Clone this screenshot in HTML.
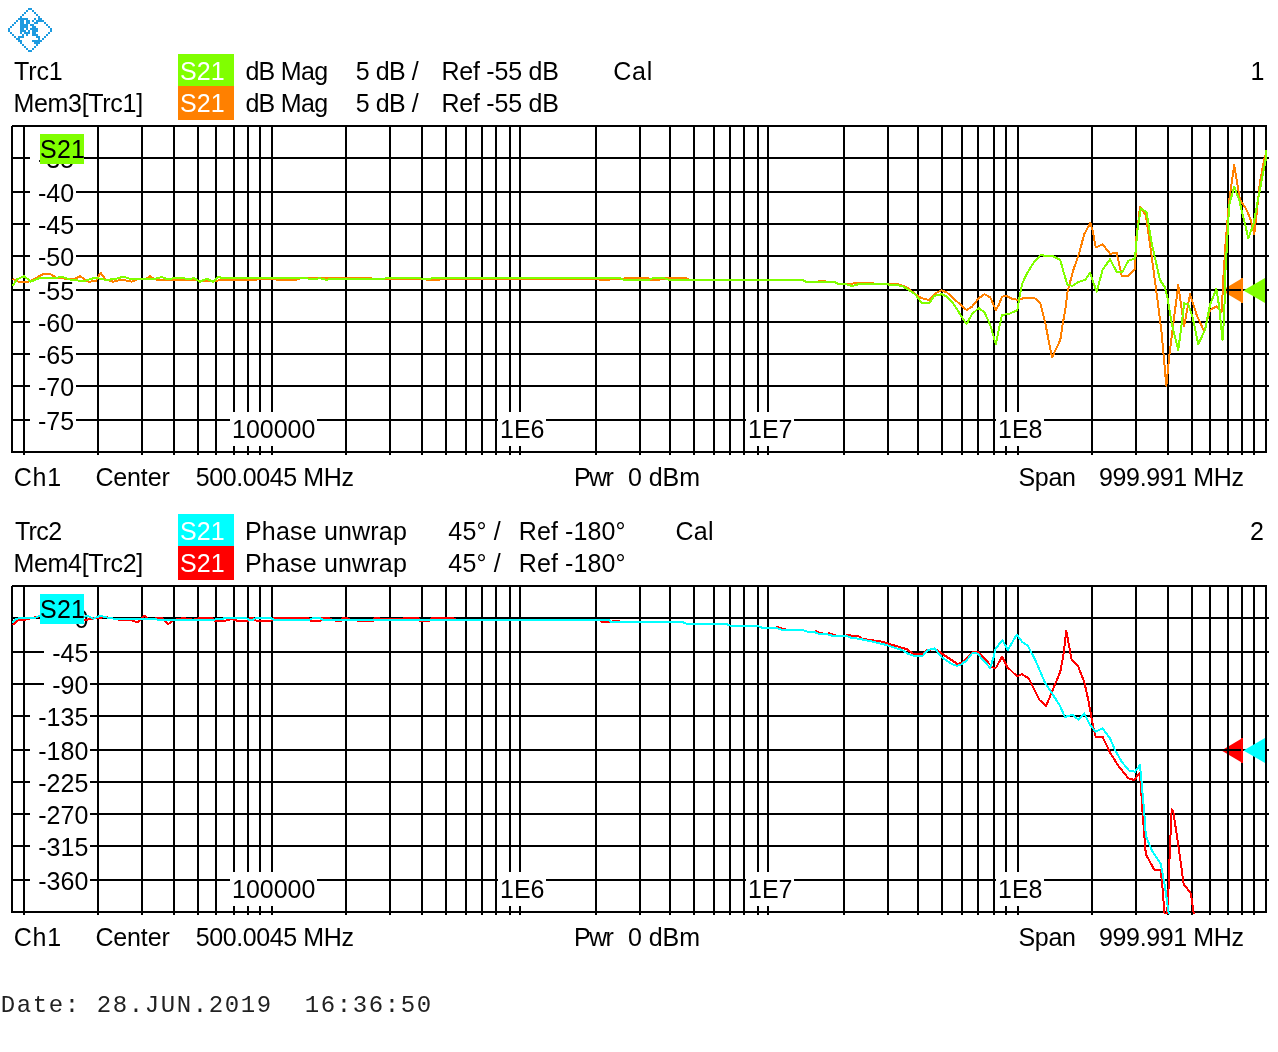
<!DOCTYPE html>
<html><head><meta charset="utf-8"><title>ZVL hardcopy</title>
<style>html,body{margin:0;padding:0;background:#fff}svg{display:block}text{font-family:"Liberation Sans",Arial,sans-serif;font-size:25px}.m{font-family:"Liberation Mono","Courier New",monospace;font-size:24px}</style></head><body>
<svg width="1278" height="1052" viewBox="0 0 1278 1052">
<rect x="0" y="0" width="1278" height="1052" fill="#fff"/>
<path d="M8 28h2v2h-2zM8 30h2v2h-2zM10 26h2v2h-2zM10 32h2v2h-2zM12 24h2v2h-2zM12 34h2v2h-2zM14 22h2v2h-2zM14 36h2v2h-2zM16 20h2v2h-2zM16 38h2v2h-2zM18 18h2v2h-2zM18 36h2v2h-2zM18 38h2v2h-2zM18 40h2v2h-2zM20 16h2v2h-2zM20 18h2v2h-2zM20 20h2v2h-2zM20 22h2v2h-2zM20 24h2v2h-2zM20 26h2v2h-2zM20 28h2v2h-2zM20 30h2v2h-2zM20 32h2v2h-2zM20 36h2v2h-2zM20 40h2v2h-2zM20 42h2v2h-2zM22 14h2v2h-2zM22 18h2v2h-2zM22 20h2v2h-2zM22 22h2v2h-2zM22 24h2v2h-2zM22 26h2v2h-2zM22 28h2v2h-2zM22 30h2v2h-2zM22 34h2v2h-2zM22 36h2v2h-2zM22 44h2v2h-2zM24 12h2v2h-2zM24 18h2v2h-2zM24 24h2v2h-2zM24 26h2v2h-2zM24 30h2v2h-2zM24 32h2v2h-2zM24 46h2v2h-2zM26 10h2v2h-2zM26 18h2v2h-2zM26 20h2v2h-2zM26 22h2v2h-2zM26 24h2v2h-2zM26 26h2v2h-2zM26 28h2v2h-2zM26 32h2v2h-2zM26 34h2v2h-2zM26 48h2v2h-2zM28 8h2v2h-2zM28 20h2v2h-2zM28 22h2v2h-2zM28 30h2v2h-2zM28 32h2v2h-2zM28 50h2v2h-2zM30 8h2v2h-2zM30 24h2v2h-2zM30 28h2v2h-2zM30 50h2v2h-2zM32 10h2v2h-2zM32 20h2v2h-2zM32 24h2v2h-2zM32 26h2v2h-2zM32 28h2v2h-2zM32 30h2v2h-2zM32 32h2v2h-2zM32 34h2v2h-2zM32 40h2v2h-2zM32 48h2v2h-2zM34 12h2v2h-2zM34 18h2v2h-2zM34 22h2v2h-2zM34 26h2v2h-2zM34 28h2v2h-2zM34 30h2v2h-2zM34 32h2v2h-2zM34 34h2v2h-2zM34 40h2v2h-2zM34 42h2v2h-2zM34 46h2v2h-2zM36 14h2v2h-2zM36 20h2v2h-2zM36 22h2v2h-2zM36 28h2v2h-2zM36 30h2v2h-2zM36 34h2v2h-2zM36 36h2v2h-2zM36 40h2v2h-2zM36 42h2v2h-2zM36 44h2v2h-2zM38 16h2v2h-2zM38 18h2v2h-2zM38 20h2v2h-2zM38 36h2v2h-2zM38 38h2v2h-2zM38 40h2v2h-2zM38 42h2v2h-2zM40 18h2v2h-2zM40 20h2v2h-2zM40 40h2v2h-2zM42 20h2v2h-2zM42 38h2v2h-2zM44 22h2v2h-2zM44 36h2v2h-2zM46 24h2v2h-2zM46 34h2v2h-2zM48 26h2v2h-2zM48 32h2v2h-2zM50 28h2v2h-2zM50 30h2v2h-2z" fill="#1e9be0" shape-rendering="crispEdges"/>
<text x="13.90" y="80" fill="#000" letter-spacing="-0.089">Trc1</text>
<text x="13.40" y="112" fill="#000" letter-spacing="-0.300">Mem3[Trc1]</text>
<rect x="178" y="54" width="56" height="32" fill="#80ff00"/>
<rect x="178" y="86" width="56" height="34" fill="#ff8000"/>
<text x="180.10" y="80" fill="#fff" letter-spacing="0.061">S21</text>
<text x="180.10" y="112" fill="#fff" letter-spacing="0.061">S21</text>
<text x="245.40" y="80" fill="#000" letter-spacing="-0.700">dB Mag</text>
<text x="355.80" y="80" fill="#000" letter-spacing="-0.480">5 dB /</text>
<text x="441.40" y="80" fill="#000" letter-spacing="-0.222">Ref -55 dB</text>
<text x="245.40" y="112" fill="#000" letter-spacing="-0.700">dB Mag</text>
<text x="355.80" y="112" fill="#000" letter-spacing="-0.480">5 dB /</text>
<text x="441.40" y="112" fill="#000" letter-spacing="-0.222">Ref -55 dB</text>
<text x="613.20" y="80" fill="#000" letter-spacing="0.750">Cal</text>
<text x="1250.50" y="80" fill="#000">1</text>
<polygon points="1221.5,290.5 1243,277.7 1243,303.3" fill="#ff8000"/>
<path d="M24 126V455M98 126V455M142 126V455M174 126V455M198 126V455M216 126V455M234 126V455M248 126V455M260 126V455M272 126V455M346 126V455M390 126V455M422 126V455M446 126V455M466 126V455M482 126V455M496 126V455M510 126V455M520 126V455M596 126V455M640 126V455M670 126V455M694 126V455M714 126V455M730 126V455M744 126V455M758 126V455M768 126V455M844 126V455M888 126V455M918 126V455M942 126V455M962 126V455M978 126V455M994 126V455M1006 126V455M1018 126V455M1092 126V455M1136 126V455M1168 126V455M1192 126V455M1210 126V455M1228 126V455M1242 126V455M1254 126V455M11 158H1269M11 192H1269M11 224H1269M11 256H1269M11 290H1269M11 322H1269M11 354H1269M11 386H1269M11 420H1269M12 126V453M1266 125V453M12 126H1267M11 452H1267" stroke="#000" stroke-width="2" fill="none" shape-rendering="crispEdges"/>
<rect x="30" y="144" width="46" height="28" fill="#fff"/>
<text x="38.00" y="168" fill="#000">-35</text>
<rect x="30" y="178" width="46" height="28" fill="#fff"/>
<text x="38.00" y="202" fill="#000">-40</text>
<rect x="30" y="210" width="46" height="28" fill="#fff"/>
<text x="38.00" y="234" fill="#000">-45</text>
<rect x="30" y="242" width="46" height="28" fill="#fff"/>
<text x="38.00" y="266" fill="#000">-50</text>
<rect x="30" y="276" width="46" height="28" fill="#fff"/>
<text x="38.00" y="300" fill="#000">-55</text>
<rect x="30" y="308" width="46" height="28" fill="#fff"/>
<text x="38.00" y="332" fill="#000">-60</text>
<rect x="30" y="340" width="46" height="28" fill="#fff"/>
<text x="38.00" y="364" fill="#000">-65</text>
<rect x="30" y="372" width="46" height="28" fill="#fff"/>
<text x="38.00" y="396" fill="#000">-70</text>
<rect x="30" y="406" width="46" height="28" fill="#fff"/>
<text x="38.00" y="430" fill="#000">-75</text>
<rect x="230" y="412" width="87" height="34" fill="#fff"/>
<text x="232.00" y="438" fill="#000">100000</text>
<rect x="498" y="412" width="48" height="34" fill="#fff"/>
<text x="500.00" y="438" fill="#000">1E6</text>
<rect x="746" y="412" width="48" height="34" fill="#fff"/>
<text x="748.00" y="438" fill="#000">1E7</text>
<rect x="996" y="412" width="48" height="34" fill="#fff"/>
<text x="998.00" y="438" fill="#000">1E8</text>
<clipPath id="cp1"><rect x="11" y="126" width="1256" height="328"/></clipPath>
<rect x="1241" y="278.0" width="2" height="25" fill="#ff8000" shape-rendering="crispEdges"/>
<polygon points="1243.5,290.5 1265,278.0 1265,303.0" fill="#80ff00"/>
<polyline points="12.5,278.7 18.3,281.7 28.3,281.7 33.3,279.5 43.3,274.0 50.0,274.0 56.7,277.8 73.3,279.5 80.0,276.2 88.3,281.7 95.8,281.2 100.5,272.8 105.8,279.5 113.3,281.7 121.7,279.5 131.7,281.7 138.3,278.7 145.0,279.5 150.0,276.2 155.0,279.5 183.3,280.0 213.0,281.0 226.0,279.8 255.0,280.0 262.0,278.5 283.0,280.0 295.0,280.0 300.0,278.5 306.0,277.8 320.0,277.8 333.0,278.0 345.0,278.0 426.0,279.5 438.0,280.0 445.0,278.5 598.0,278.5 600.0,280.0 608.0,280.0 612.0,279.0 629.0,278.3 648.0,278.3 651.0,280.0 657.0,280.0 666.0,278.3 686.0,278.3 690.0,279.8 802.0,279.8 806.0,281.7 812.0,282.5 818.0,281.7 822.0,280.5 826.0,281.7 834.0,281.7 838.0,283.7 846.0,284.0 852.0,283.7 858.7,282.5 862.0,283.3 885.3,283.7 897.0,283.8 907.0,287.5 915.3,294.2 922.0,298.3 928.7,300.0 935.3,293.3 941.2,290.3 947.0,292.5 955.3,300.0 966.5,310.0 972.0,306.7 978.7,298.3 984.5,294.2 990.3,297.5 995.8,310.0 998.7,305.0 1002.0,296.7 1006.2,295.8 1012.0,298.7 1018.7,300.0 1023.7,298.0 1034.5,298.0 1040.3,303.3 1045.3,323.3 1052.0,357.5 1060.3,340.0 1062.8,323.3 1065.0,311.7 1067.5,291.7 1073.3,270.0 1079.2,253.3 1084.2,234.2 1090.3,223.0 1092.5,230.0 1095.8,247.5 1102.5,244.2 1110.0,253.7 1116.7,253.0 1121.7,275.8 1128.3,275.8 1135.0,269.2 1136.3,238.3 1140.0,207.0 1145.8,215.0 1151.7,256.7 1157.5,300.0 1161.7,333.3 1166.3,385.8 1169.2,356.7 1174.2,316.7 1178.3,285.0 1180.8,303.3 1184.2,325.8 1190.0,294.2 1196.7,315.0 1204.2,331.7 1210.0,310.0 1216.3,306.3 1221.7,311.7 1223.3,278.3 1225.8,240.0 1229.2,200.0 1234.2,165.0 1240.0,200.0 1245.8,208.3 1250.8,220.0 1254.2,234.2 1256.7,213.3 1259.8,183.3 1265.0,155.0" fill="none" stroke="#ff8000" stroke-width="2" stroke-linejoin="round" shape-rendering="crispEdges" clip-path="url(#cp1)"/>
<polyline points="12.5,286.2 16.7,279.5 24.2,276.2 30.8,281.7 40.0,277.8 55.0,277.8 62.5,277.0 70.0,279.5 83.3,281.2 95.0,277.8 106.7,280.0 116.7,278.7 123.3,276.7 131.7,279.5 145.0,278.7 155.0,278.7 161.7,277.0 166.7,279.0 180.0,277.8 188.3,279.0 194.2,278.2 200.0,281.7 206.7,278.7 213.0,281.7 218.0,276.7 221.3,277.8 230.0,278.2 306.0,278.2 313.0,279.5 319.7,278.2 326.3,279.8 333.0,278.7 346.0,278.7 354.7,279.5 363.0,278.7 371.0,279.5 389.7,278.2 419.7,278.2 426.0,279.5 432.7,278.2 620.0,278.2 623.5,279.8 649.0,279.8 653.0,278.2 664.0,278.2 669.0,279.8 802.3,279.8 805.7,281.7 834.0,281.7 838.0,283.7 845.7,284.0 852.0,286.0 858.7,284.2 885.3,284.2 902.0,285.8 915.3,294.2 922.0,303.3 929.0,303.3 934.5,295.8 942.0,294.2 947.0,296.7 953.7,304.2 966.5,324.2 972.0,314.2 978.7,308.0 984.5,312.5 990.3,325.0 995.8,344.2 998.7,330.0 1002.0,315.0 1009.5,313.7 1017.3,310.3 1019.5,296.7 1022.0,284.2 1027.0,273.3 1033.7,262.5 1040.8,254.7 1044.5,255.8 1052.0,255.8 1060.3,260.0 1065.0,277.0 1067.5,285.0 1072.5,285.8 1079.0,281.7 1085.0,280.0 1090.0,273.0 1096.7,291.7 1102.5,270.0 1110.0,259.2 1116.7,271.7 1122.5,271.7 1128.3,260.8 1135.0,258.3 1137.5,230.0 1140.8,208.3 1146.7,212.5 1151.7,243.3 1160.0,280.0 1165.0,287.5 1167.5,298.3 1171.7,323.3 1178.3,350.0 1181.7,323.3 1184.2,303.3 1188.3,304.2 1192.5,316.7 1198.3,344.2 1205.0,330.0 1210.0,305.0 1216.3,289.0 1219.2,306.7 1222.5,340.0 1224.2,316.7 1225.2,276.0 1227.5,235.0 1229.2,205.0 1234.2,186.7 1239.2,200.0 1248.3,238.0 1253.3,225.0 1259.2,193.3 1266.0,158.0 1266.2,150.0" fill="none" stroke="#80ff00" stroke-width="2" stroke-linejoin="round" shape-rendering="crispEdges" clip-path="url(#cp1)"/>
<rect x="40" y="134" width="44" height="30" fill="#80ff00"/>
<text x="40.10" y="158" fill="#000" letter-spacing="0.211">S21</text>
<text x="13.70" y="486" fill="#000" letter-spacing="0.821">Ch1</text>
<text x="95.40" y="486" fill="#000" letter-spacing="-0.140">Center</text>
<text x="195.70" y="486" fill="#000" letter-spacing="-0.400">500.0045 MHz</text>
<text x="573.90" y="486" fill="#000" letter-spacing="-1.600">Pwr</text>
<text x="628.00" y="486" fill="#000" letter-spacing="-0.075">0 dBm</text>
<text x="1018.50" y="486" fill="#000" letter-spacing="-0.333">Span</text>
<text x="1099.10" y="486" fill="#000" letter-spacing="-0.390">999.991 MHz</text>
<text x="14.90" y="540" fill="#000" letter-spacing="-0.633">Trc2</text>
<text x="13.40" y="572" fill="#000" letter-spacing="-0.289">Mem4[Trc2]</text>
<rect x="178" y="514" width="56" height="32" fill="#00ffff"/>
<rect x="178" y="546" width="56" height="34" fill="#ff0000"/>
<text x="180.10" y="540" fill="#fff" letter-spacing="0.061">S21</text>
<text x="180.10" y="572" fill="#fff" letter-spacing="0.061">S21</text>
<text x="245.00" y="540" fill="#000" letter-spacing="0.182">Phase unwrap</text>
<text x="448.30" y="540" fill="#000" letter-spacing="0.175">45° /</text>
<text x="518.80" y="540" fill="#000" letter-spacing="0.087">Ref -180°</text>
<text x="245.00" y="572" fill="#000" letter-spacing="0.182">Phase unwrap</text>
<text x="448.30" y="572" fill="#000" letter-spacing="0.175">45° /</text>
<text x="518.80" y="572" fill="#000" letter-spacing="0.087">Ref -180°</text>
<text x="675.50" y="540" fill="#000" letter-spacing="0.300">Cal</text>
<text x="1250.00" y="540" fill="#000">2</text>
<polygon points="1221.5,750.5 1243,737.7 1243,763.3" fill="#ff0000"/>
<path d="M24 586V915M98 586V915M142 586V915M174 586V915M198 586V915M216 586V915M234 586V915M248 586V915M260 586V915M272 586V915M346 586V915M390 586V915M422 586V915M446 586V915M466 586V915M482 586V915M496 586V915M510 586V915M520 586V915M596 586V915M640 586V915M670 586V915M694 586V915M714 586V915M730 586V915M744 586V915M758 586V915M768 586V915M844 586V915M888 586V915M918 586V915M942 586V915M962 586V915M978 586V915M994 586V915M1006 586V915M1018 586V915M1092 586V915M1136 586V915M1168 586V915M1192 586V915M1210 586V915M1228 586V915M1242 586V915M1254 586V915M11 618H1269M11 652H1269M11 684H1269M11 716H1269M11 750H1269M11 782H1269M11 814H1269M11 846H1269M11 880H1269M12 586V913M1266 585V913M12 586H1267M11 912H1267" stroke="#000" stroke-width="2" fill="none" shape-rendering="crispEdges"/>
<rect x="66" y="604" width="24" height="28" fill="#fff"/>
<text x="74.40" y="628" fill="#000">0</text>
<rect x="44" y="638" width="46" height="28" fill="#fff"/>
<text x="52.17" y="662" fill="#000">-45</text>
<rect x="44" y="670" width="46" height="28" fill="#fff"/>
<text x="52.17" y="694" fill="#000">-90</text>
<rect x="30" y="702" width="60" height="28" fill="#fff"/>
<text x="38.27" y="726" fill="#000">-135</text>
<rect x="30" y="736" width="60" height="28" fill="#fff"/>
<text x="38.27" y="760" fill="#000">-180</text>
<rect x="30" y="768" width="60" height="28" fill="#fff"/>
<text x="38.27" y="792" fill="#000">-225</text>
<rect x="30" y="800" width="60" height="28" fill="#fff"/>
<text x="38.27" y="824" fill="#000">-270</text>
<rect x="30" y="832" width="60" height="28" fill="#fff"/>
<text x="38.27" y="856" fill="#000">-315</text>
<rect x="30" y="866" width="60" height="28" fill="#fff"/>
<text x="38.27" y="890" fill="#000">-360</text>
<rect x="230" y="872" width="87" height="34" fill="#fff"/>
<text x="232.00" y="898" fill="#000">100000</text>
<rect x="498" y="872" width="48" height="34" fill="#fff"/>
<text x="500.00" y="898" fill="#000">1E6</text>
<rect x="746" y="872" width="48" height="34" fill="#fff"/>
<text x="748.00" y="898" fill="#000">1E7</text>
<rect x="996" y="872" width="48" height="34" fill="#fff"/>
<text x="998.00" y="898" fill="#000">1E8</text>
<clipPath id="cp2"><rect x="11" y="586" width="1256" height="328"/></clipPath>
<rect x="1241" y="738.0" width="2" height="25" fill="#ff0000" shape-rendering="crispEdges"/>
<polygon points="1243.5,750.5 1265,738.0 1265,763.0" fill="#00ffff"/>
<polyline points="12.5,625.0 18.3,619.7 23.3,620.3 35.8,617.0 40.0,616.3 84.0,620.3 95.0,618.0 106.7,617.2 120.0,620.0 131.7,620.3 137.5,622.5 141.7,618.7 144.5,615.8 148.3,618.7 162.5,618.3 168.3,624.2 173.3,620.0 183.3,618.0 193.3,619.7 200.0,618.0 213.0,618.5 215.0,621.0 226.0,620.5 232.0,619.0 238.0,621.0 248.0,621.0 250.0,618.0 253.0,618.0 256.0,620.5 271.0,620.5 274.0,618.0 308.0,618.0 311.0,621.0 320.0,621.0 322.0,618.0 328.0,618.0 332.0,619.5 336.0,621.0 341.0,621.0 343.0,618.0 346.0,618.0 350.0,619.5 361.0,621.0 373.0,621.0 375.0,618.0 378.0,618.0 382.0,619.5 413.0,618.0 418.0,618.0 420.0,621.0 426.0,621.0 430.0,620.5 432.0,618.0 452.0,618.0 456.0,619.5 600.0,620.0 602.0,622.0 611.0,622.5 614.0,620.5 618.0,620.5 620.0,621.7 681.5,621.7 686.5,623.8 725.7,623.8 730.7,625.8 757.3,625.8 762.3,627.8 775.7,627.8 777.0,627.0 782.3,628.5 787.0,630.0 802.3,630.0 807.3,631.7 814.0,632.0 816.0,631.3 819.0,632.5 824.0,634.0 827.3,634.2 829.0,633.0 832.3,634.5 837.0,635.8 845.7,635.8 847.0,634.8 852.0,635.8 858.7,636.3 862.0,638.7 882.0,641.7 907.0,649.2 912.8,653.7 922.8,653.7 927.8,649.7 935.3,649.2 942.0,653.7 957.8,664.2 962.0,662.5 973.7,651.7 978.7,652.5 992.8,667.5 996.2,667.5 1002.0,656.7 1007.0,666.7 1017.0,676.3 1022.0,674.2 1028.7,678.3 1039.5,700.0 1046.2,705.8 1052.0,691.7 1060.3,671.7 1063.7,653.3 1066.3,630.8 1068.3,641.7 1071.7,660.0 1078.3,666.7 1084.2,681.7 1088.3,700.0 1092.5,723.3 1095.8,737.5 1102.5,736.7 1110.0,752.5 1118.3,765.8 1128.3,778.3 1134.2,780.0 1140.0,772.5 1142.5,811.7 1145.8,854.2 1154.2,869.7 1160.3,869.7 1162.0,881.7 1164.5,913.3 1166.0,930.0 1168.3,895.0 1169.7,853.3 1171.7,809.2 1173.3,811.7 1178.3,845.0 1183.7,884.2 1190.8,893.3 1193.7,913.3 1195.0,925.0" fill="none" stroke="#ff0000" stroke-width="2" stroke-linejoin="round" shape-rendering="crispEdges" clip-path="url(#cp2)"/>
<polyline points="12.5,622.5 16.7,618.7 23.3,617.5 28.3,618.3 35.8,617.5 40.0,615.8 60.0,616.5 84.0,616.7 87.5,615.8 93.3,618.7 100.0,615.8 106.7,617.5 116.7,619.2 141.7,619.2 166.7,619.7 213.0,619.7 228.0,618.0 246.0,618.0 249.0,619.7 253.0,619.7 256.0,618.0 270.5,618.0 274.0,619.7 309.7,619.7 313.0,618.0 319.7,618.0 323.0,619.7 609.0,619.7 611.0,621.7 681.5,621.7 686.5,623.8 725.7,623.8 730.7,625.8 757.3,625.8 762.3,627.8 775.7,627.8 782.3,630.0 802.3,630.0 807.3,631.7 814.0,632.0 819.0,633.8 827.3,634.2 832.3,635.8 845.7,635.8 852.0,638.0 858.7,638.7 868.7,640.8 885.3,644.7 902.0,650.0 908.7,654.2 913.7,655.8 922.8,655.8 927.8,650.0 934.5,648.3 942.0,657.5 952.0,664.2 957.0,665.8 960.3,665.0 966.2,660.8 972.8,652.5 977.8,653.7 983.7,660.8 990.3,668.0 993.7,656.7 995.3,649.2 1002.5,640.0 1007.8,650.0 1016.7,634.7 1022.0,641.7 1027.8,645.8 1035.3,660.0 1045.3,683.3 1052.0,693.3 1059.5,705.0 1065.0,717.0 1072.5,714.7 1078.3,719.7 1084.2,713.3 1090.0,725.0 1095.8,731.7 1102.5,728.3 1110.0,738.3 1115.0,750.0 1121.7,761.7 1129.2,770.8 1135.0,771.7 1140.0,765.0 1141.7,783.3 1144.2,811.7 1145.8,835.8 1151.7,850.0 1160.8,864.2 1165.0,886.7 1168.7,913.3 1169.5,925.0" fill="none" stroke="#00ffff" stroke-width="2" stroke-linejoin="round" shape-rendering="crispEdges" clip-path="url(#cp2)"/>
<rect x="40" y="594" width="44" height="30" fill="#00ffff"/>
<text x="40.10" y="618" fill="#000" letter-spacing="0.211">S21</text>
<text x="13.70" y="946" fill="#000" letter-spacing="0.821">Ch1</text>
<text x="95.40" y="946" fill="#000" letter-spacing="-0.140">Center</text>
<text x="195.70" y="946" fill="#000" letter-spacing="-0.400">500.0045 MHz</text>
<text x="573.90" y="946" fill="#000" letter-spacing="-1.600">Pwr</text>
<text x="628.00" y="946" fill="#000" letter-spacing="-0.075">0 dBm</text>
<text x="1018.50" y="946" fill="#000" letter-spacing="-0.333">Span</text>
<text x="1099.10" y="946" fill="#000" letter-spacing="-0.390">999.991 MHz</text>
<text class="m" x="0.8" y="1012" letter-spacing="1.6" fill="#222" xml:space="preserve">Date: 28.JUN.2019  16:36:50</text>
</svg></body></html>
